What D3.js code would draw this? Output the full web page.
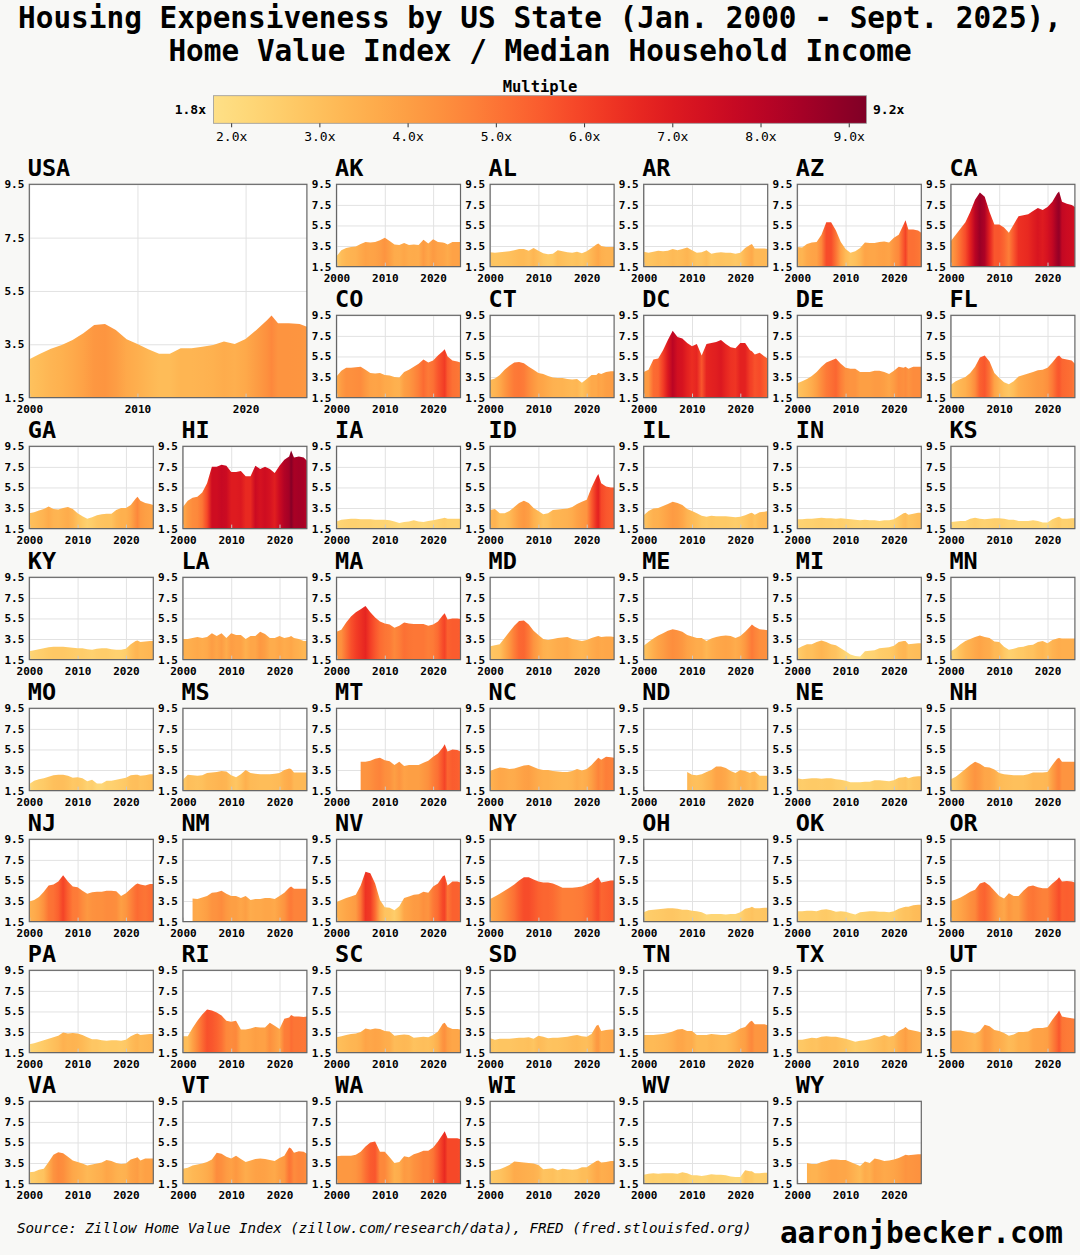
<!DOCTYPE html>
<html><head><meta charset="utf-8">
<script src="https://cdn.jsdelivr.net/npm/d3@7"></script>
<style>
body{margin:0;background:#f8f8f6;}
svg{display:block;font-family:"DejaVu Sans Mono",monospace;}
</style></head><body>
<div id="chart"></div>
<script>
// sample dates (fractional years); 2022.4 is the mid-2022 peak, 2025.67 = Sept. 2025
const years=[2000,2001,2002,2003,2004,2005,2006,2007,2008,2009,2010,2011,2012,2013,2014,2015,2016,2017,2018,2019,2020,2021,2022,2022.4,2023,2024,2025,2025.67];
const yTicks=[1.5,3.5,5.5,7.5,9.5];
const xTicks=[2000,2010,2020];
const barTicks=[2,3,4,5,6,7,8,9];
const vMin=1.8, vMax=9.2;

// home value index / median household income
const USA=[2.94,3.14,3.33,3.47,3.66,3.91,4.22,4.26,4.04,3.69,3.51,3.31,3.14,3.14,3.35,3.35,3.41,3.47,3.6,3.51,3.7,4.04,4.41,4.58,4.29,4.29,4.26,4.16];
const AK=[2.5,3.1,3.3,3.4,3.45,3.7,3.9,3.85,3.9,4.05,4.3,4.0,3.65,3.6,3.8,3.6,3.65,3.6,4.1,3.75,4.15,3.9,3.85,3.8,3.65,3.9,3.9,3.9];
const AL=[2.9,2.85,2.9,2.95,3.0,3.1,3.2,3.2,3.05,3.3,3.05,2.8,2.7,2.75,3.1,3.0,2.9,2.85,2.95,2.8,3.0,3.3,3.65,3.75,3.5,3.4,3.4,3.4];
const AR=[2.95,2.85,2.95,3.05,3.0,3.05,3.2,3.1,3.2,3.35,3.1,2.85,2.9,3.1,2.75,2.85,2.9,2.85,2.85,2.75,2.85,3.3,3.6,3.7,3.25,3.25,3.25,3.2];
const AZ=[3.4,3.35,3.7,3.85,3.9,4.6,5.8,5.8,5.0,3.9,3.2,2.85,3.0,3.3,3.85,3.8,3.8,3.9,3.95,3.85,4.3,4.6,5.6,6.0,5.1,5.1,5.0,4.8];
const CA=[4.0,4.6,5.2,5.8,6.8,8.0,8.7,8.3,6.8,5.6,5.6,5.3,4.8,5.6,6.4,6.5,6.6,6.9,7.2,7.0,7.3,7.8,8.6,8.8,7.8,7.6,7.5,7.3];
const CO=[3.55,4.1,4.4,4.4,4.45,4.5,4.2,3.9,3.85,3.9,3.7,3.65,3.5,3.45,4.0,4.2,4.5,4.8,5.2,4.9,5.1,5.6,6.0,6.2,5.5,5.1,5.0,4.9];
const CT=[3.2,3.35,3.7,4.2,4.6,4.9,4.95,4.85,4.5,4.2,3.9,3.8,3.6,3.45,3.4,3.4,3.3,3.25,3.3,2.95,3.3,3.7,3.7,3.9,3.8,4.0,4.05,4.05];
const DC=[4.0,4.2,5.2,5.3,6.1,7.1,8.0,7.4,7.25,6.8,6.5,6.7,5.6,6.7,6.8,6.9,7.1,6.7,6.4,6.3,6.8,6.8,6.1,6.0,5.7,5.85,5.5,5.3];
const DE=[2.9,3.1,3.3,3.6,4.0,4.5,4.9,5.1,5.3,4.8,4.4,4.3,4.3,4.0,4.0,4.0,4.1,4.1,4.0,3.8,4.1,4.5,4.4,4.5,4.3,4.5,4.5,4.5];
const FL=[2.75,3.1,3.3,3.5,3.9,4.5,5.4,5.6,5.0,3.9,3.4,3.0,2.8,3.1,3.55,3.7,3.85,4.0,4.15,4.2,4.4,4.9,5.5,5.6,5.3,5.2,5.1,4.8];
const GA=[3.0,3.1,3.25,3.4,3.65,3.4,3.35,3.5,3.6,3.4,3.0,2.7,2.45,2.6,2.8,2.9,2.95,2.95,3.3,3.5,3.5,3.8,4.4,4.6,4.2,4.0,3.9,3.8];
const HI=[3.6,4.2,4.5,4.6,5.0,5.9,7.5,7.5,7.7,7.6,7.0,7.0,7.1,6.6,6.6,7.6,7.3,7.5,7.3,6.9,7.6,8.2,8.5,9.1,8.4,8.5,8.4,8.1];
const IA=[2.2,2.35,2.4,2.45,2.45,2.4,2.4,2.4,2.35,2.35,2.35,2.3,2.2,2.05,2.15,2.2,2.3,2.2,2.15,2.25,2.3,2.4,2.5,2.55,2.45,2.45,2.45,2.45];
const ID=[3.3,3.4,3.0,3.0,3.2,3.6,4.0,4.2,4.0,3.5,3.2,2.9,3.0,3.3,3.35,3.4,3.45,3.6,3.9,4.1,4.3,5.5,6.5,6.8,5.9,5.6,5.5,5.5];
const IL=[2.8,3.2,3.45,3.5,3.7,3.9,4.1,4.0,3.8,3.4,3.2,3.0,2.75,2.65,2.75,2.7,2.7,2.7,2.65,2.6,2.65,2.8,3.0,3.05,2.85,3.1,3.15,3.2];
const IN=[2.4,2.4,2.45,2.45,2.5,2.55,2.5,2.5,2.45,2.5,2.45,2.4,2.35,2.3,2.35,2.3,2.3,2.25,2.3,2.3,2.4,2.7,3.0,3.05,2.85,2.95,3.05,3.05];
const KS=[2.15,2.2,2.25,2.25,2.45,2.55,2.45,2.4,2.45,2.5,2.5,2.45,2.35,2.35,2.25,2.25,2.25,2.3,2.25,2.1,2.1,2.4,2.6,2.65,2.45,2.45,2.5,2.5];
const KY=[2.3,2.4,2.5,2.6,2.7,2.75,2.75,2.75,2.7,2.65,2.6,2.6,2.5,2.45,2.55,2.6,2.6,2.5,2.45,2.45,2.55,3.0,3.3,3.35,3.2,3.25,3.3,3.3];
const LA=[3.5,3.5,3.6,3.7,3.6,3.7,4.05,3.8,4.05,3.6,4.05,3.9,3.9,3.5,3.8,3.8,4.2,4.0,3.6,3.6,3.8,3.6,3.7,3.8,3.6,3.5,3.3,3.3];
const MA=[4.2,4.4,5.1,5.7,6.1,6.4,6.7,6.1,5.6,5.2,5.0,4.9,4.6,4.8,5.1,5.0,4.95,4.95,4.95,4.8,4.9,5.2,5.8,6.0,5.4,5.5,5.5,5.45];
const MD=[2.8,2.9,3.0,3.6,4.2,4.8,5.25,5.3,4.9,4.3,3.9,3.5,3.4,3.5,3.6,3.65,3.7,3.5,3.4,3.3,3.4,3.6,3.75,3.8,3.7,3.75,3.75,3.7];
const ME=[2.85,3.2,3.55,3.85,4.05,4.3,4.45,4.35,4.2,3.9,3.75,3.6,3.6,3.3,3.55,3.7,3.8,3.85,3.8,3.6,3.8,4.2,4.7,4.9,4.7,4.45,4.4,4.35];
const MI=[2.55,2.8,3.0,3.0,3.2,3.35,3.2,3.0,2.9,2.6,2.3,2.0,1.85,1.8,2.3,2.35,2.4,2.6,2.65,2.7,2.85,3.2,3.3,3.3,3.0,3.05,3.1,3.1];
const MN=[2.3,2.6,3.0,3.3,3.5,3.7,3.85,3.7,3.6,3.25,3.2,2.75,2.45,2.55,2.7,2.75,2.9,2.95,3.2,3.3,3.1,3.4,3.55,3.6,3.55,3.55,3.55,3.55];
const MO=[2.15,2.45,2.6,2.7,2.85,3.0,3.05,3.05,2.95,2.75,2.8,2.7,2.4,2.55,2.2,2.2,2.45,2.45,2.55,2.65,2.75,3.0,3.05,3.05,2.95,3.0,3.1,3.1];
const MS=[2.55,3.05,3.0,2.95,3.0,3.2,3.25,3.3,3.4,3.35,3.0,2.8,3.1,3.5,3.2,3.15,3.1,3.1,3.1,3.15,3.2,3.5,3.65,3.6,3.25,3.25,3.25,3.25];
const MT=[null,null,null,null,null,4.3,4.3,4.4,4.6,4.7,4.45,4.35,4.0,4.3,3.9,4.0,4.0,4.0,4.2,4.4,4.8,5.1,5.7,6.0,5.3,5.5,5.45,5.3];
const NC=[3.4,3.6,3.75,3.7,3.6,3.65,3.8,3.95,4.0,3.8,3.6,3.5,3.5,3.4,3.35,3.3,3.3,3.4,3.6,3.45,3.6,4.0,4.5,4.7,4.5,4.8,4.75,4.7];
const ND=[null,null,null,null,null,null,null,null,null,3.3,3.05,3.0,3.1,3.3,3.5,3.85,3.85,3.7,3.4,3.2,3.5,3.4,3.2,3.3,3.35,2.95,2.95,2.95];
const NE=[2.7,2.6,2.65,2.7,2.7,2.65,2.7,2.7,2.6,2.55,2.45,2.3,2.3,2.3,2.35,2.35,2.5,2.5,2.45,2.4,2.5,2.75,2.8,2.85,2.7,2.85,2.9,2.9];
const NH=[2.6,2.85,3.2,3.6,4.0,4.3,4.1,3.8,3.75,3.55,3.2,3.1,3.05,3.0,3.0,3.0,3.1,3.25,3.25,3.25,3.3,4.0,4.6,4.7,4.3,4.3,4.3,4.3];
const NJ=[3.45,3.6,3.9,4.4,5.0,5.1,5.4,6.0,5.4,4.9,4.85,4.5,4.2,4.35,4.4,4.4,4.5,4.5,4.45,4.0,4.25,4.7,5.1,5.2,5.1,5.0,5.15,5.15];
const NM=[null,null,3.75,3.7,3.85,4.0,4.3,4.35,4.5,4.2,4.0,4.0,3.8,4.0,3.6,3.7,3.7,3.8,3.8,3.7,4.0,4.3,4.8,4.9,4.7,4.7,4.7,4.7];
const NV=[3.4,3.6,3.8,3.95,4.1,5.0,6.35,6.2,5.2,3.6,2.9,2.85,2.6,3.0,3.8,3.95,4.1,4.15,4.4,4.3,4.9,5.2,5.9,6.0,5.0,5.4,5.4,5.3];
const NY=[3.7,3.95,4.2,4.5,4.8,5.1,5.5,5.8,5.8,5.6,5.4,5.3,5.3,5.2,5.0,4.8,4.8,4.8,4.85,4.9,5.1,5.3,5.7,5.8,5.3,5.4,5.5,5.5];
const OH=[2.4,2.6,2.65,2.7,2.75,2.8,2.8,2.75,2.65,2.65,2.55,2.5,2.4,2.2,2.25,2.25,2.25,2.2,2.25,2.25,2.4,2.75,2.85,2.95,2.8,2.8,2.85,2.85];
const OK=[2.5,2.5,2.55,2.55,2.5,2.65,2.7,2.6,2.45,2.5,2.45,2.3,2.2,2.4,2.45,2.5,2.5,2.45,2.45,2.4,2.5,2.75,2.9,2.95,2.95,3.1,3.15,3.15];
const OR=[3.5,3.65,3.85,4.1,4.4,4.6,5.2,5.35,5.0,4.5,4.0,3.75,4.25,4.0,4.0,4.5,4.9,5.0,4.85,4.75,4.75,5.2,5.6,5.8,5.4,5.45,5.4,5.3];
const PA=[2.3,2.4,2.55,2.7,2.85,3.0,3.15,3.45,3.35,3.4,3.35,3.2,3.0,2.8,2.8,2.7,2.65,2.7,2.7,2.65,2.75,3.1,3.3,3.35,3.2,3.25,3.3,3.3];
const RI=[3.1,3.1,3.9,4.6,5.2,5.7,5.6,5.4,5.1,4.6,4.5,4.6,3.75,3.75,3.85,4.0,3.95,3.95,4.4,4.1,3.8,4.8,4.9,5.15,5.0,5.0,4.95,5.0];
const SC=[3.0,3.1,3.2,3.3,3.35,3.5,3.85,3.75,3.85,3.8,3.6,3.55,3.15,3.2,3.25,3.2,2.95,3.0,3.05,3.0,3.2,3.55,4.3,4.4,4.0,3.8,3.8,3.75];
const SD=[2.9,2.75,2.85,2.85,2.85,2.9,2.95,2.95,3.0,2.85,3.15,3.05,2.9,2.95,2.95,3.0,3.05,3.15,3.2,3.1,3.05,3.3,4.1,4.2,3.6,3.7,3.75,3.75];
const TN=[3.2,3.2,3.2,3.25,3.3,3.4,3.55,3.75,3.8,3.6,3.6,3.2,3.2,3.2,3.3,3.25,3.2,3.2,3.35,3.55,3.85,4.0,4.5,4.6,4.25,4.25,4.25,4.15];
const TX=[2.75,2.75,2.85,2.95,2.9,3.05,3.1,3.05,3.05,2.95,2.85,2.7,2.55,2.65,2.7,2.8,2.95,3.05,3.2,3.05,3.15,3.6,3.85,4.0,3.75,3.65,3.55,3.45];
const UT=[3.6,3.65,3.65,3.55,3.45,3.35,3.6,4.2,4.05,3.7,3.6,3.4,3.15,3.25,3.5,3.5,3.55,3.85,3.9,3.9,4.0,4.7,5.3,5.6,5.0,4.9,4.85,4.8];
const VA=[2.6,2.65,2.85,2.95,3.6,4.3,4.55,4.45,4.1,3.75,3.6,3.45,3.25,3.35,3.45,3.55,3.8,3.7,3.5,3.4,3.45,3.85,4.0,4.05,3.75,3.95,3.95,3.95];
const VT=[2.95,3.05,3.25,3.35,3.45,3.6,3.85,4.5,4.4,4.1,3.95,4.2,3.9,3.6,3.75,3.9,3.95,3.9,3.8,3.7,4.0,4.2,5.0,4.9,4.5,4.65,4.6,4.4];
const WA=[4.15,4.2,4.2,4.2,4.3,4.6,5.1,5.5,5.6,4.6,4.6,4.05,3.5,3.6,4.15,4.05,4.35,4.5,4.7,4.7,5.0,5.6,6.3,6.6,5.9,5.9,5.9,5.8];
const WI=[2.7,2.8,2.9,3.1,3.3,3.65,3.6,3.55,3.5,3.45,3.3,2.9,2.95,3.0,2.8,2.95,2.9,2.85,2.9,3.1,3.1,3.4,3.7,3.75,3.55,3.6,3.7,3.7];
const WV=[2.35,2.45,2.5,2.45,2.5,2.5,2.5,2.45,2.6,2.5,2.3,2.3,2.25,2.3,2.4,2.35,2.35,2.3,2.2,2.15,2.15,2.8,2.7,2.7,2.5,2.5,2.55,2.55];
const WY=[null,null,3.5,3.4,3.4,3.6,3.7,3.85,3.85,3.8,3.8,3.6,3.4,3.2,3.65,3.5,3.95,3.85,3.7,3.75,3.85,4.0,4.2,4.3,4.25,4.3,4.35,4.35];

const series={USA,AK,AL,AR,AZ,CA,CO,CT,DC,DE,FL,GA,HI,IA,ID,IL,IN,KS,KY,LA,MA,MD,ME,MI,MN,MO,MS,MT,NC,ND,NE,NH,NJ,NM,NV,NY,OH,OK,OR,PA,RI,SC,SD,TN,TX,UT,VA,VT,WA,WI,WV,WY};
const stateOrder=Object.keys(series).slice(1);

var W=1080,H=1255;
var colX0=29.3, colStep=153.6, pw=124, rowY0=184.3, rowStep=131, ph=82.3;

var svg=d3.select("#chart").append("svg").attr("width",W).attr("height",H);
svg.append("rect").attr("width",W).attr("height",H).attr("fill","#f8f8f6");
var defs=svg.append("defs");
var colour=function(v){return d3.interpolateYlOrRd(0.2+0.8*Math.max(0,Math.min(1,(v-vMin)/(vMax-vMin))));};

// title
svg.append("text").attr("x",540).attr("y",27.5).attr("text-anchor","middle").attr("font-size",29.4).attr("font-weight","bold")
    .text("Housing Expensiveness by US State (Jan. 2000 - Sept. 2025),");
svg.append("text").attr("x",540).attr("y",60.5).attr("text-anchor","middle").attr("font-size",29.4).attr("font-weight","bold")
    .text("Home Value Index / Median Household Income");

// colour bar
var cbx=d3.scaleLinear().domain([vMin,vMax]).range([213.5,866.4]);
var cb=defs.append("linearGradient").attr("id","cbar");
d3.range(0,1.0001,0.05).forEach(function(t){cb.append("stop").attr("offset",t).attr("stop-color",colour(vMin+t*(vMax-vMin)));});
svg.append("text").attr("x",540).attr("y",91.5).attr("text-anchor","middle").attr("font-size",15.5).attr("font-weight","bold").text("Multiple");
svg.append("rect").attr("x",213.5).attr("y",95.7).attr("width",866.4-213.5).attr("height",27.6).attr("fill","url(#cbar)")
    .attr("stroke","#999").attr("stroke-width",0.8);
svg.append("g").attr("transform","translate(0,123.3)")
    .call(d3.axisBottom(cbx).tickValues(barTicks).tickSize(4).tickPadding(4).tickFormat(function(d){return d.toFixed(1)+"x";}))
    .call(function(a){a.select(".domain").remove();a.attr("font-family","DejaVu Sans Mono").attr("font-size",13);a.selectAll("line").attr("stroke","#333");});
svg.append("text").attr("x",206).attr("y",109.5).attr("dy","0.35em").attr("text-anchor","end").attr("font-size",13).attr("font-weight","bold").text(vMin.toFixed(1)+"x");
svg.append("text").attr("x",873).attr("y",109.5).attr("dy","0.35em").attr("font-size",13).attr("font-weight","bold").text(vMax.toFixed(1)+"x");

function panel(name,px,py,w,h){
    var pts=years.map(function(yr,i){return [yr,series[name][i]];});
    var x=d3.scaleLinear().domain([2000,2025.67]).range([0,w]);
    var y=d3.scaleLinear().domain([1.5,9.5]).range([h,0]);
    var g=svg.append("g").attr("transform","translate("+px+","+py+")");
    g.append("rect").attr("width",w).attr("height",h).attr("fill","#fff");

    g.append("g").call(d3.axisLeft(y).tickValues(yTicks).tickSize(-w).tickFormat(""))
        .call(function(a){a.select(".domain").remove();a.selectAll("line").attr("stroke","#e2e2e2");});
    g.append("g").attr("transform","translate(0,"+h+")").call(d3.axisBottom(x).tickValues(xTicks).tickSize(-h).tickFormat(""))
        .call(function(a){a.select(".domain").remove();a.selectAll("line").attr("stroke","#e2e2e2");});

    var lg=defs.append("linearGradient").attr("id","grad-"+name).attr("gradientUnits","userSpaceOnUse")
        .attr("x1",0).attr("x2",w).attr("y1",0).attr("y2",0);
    pts.filter(function(d){return d[1]!=null;}).forEach(function(d){
        lg.append("stop").attr("offset",x(d[0])/w).attr("stop-color",colour(d[1]));
    });
    g.append("path").datum(pts).attr("fill","url(#grad-"+name+")")
        .attr("d",d3.area().defined(function(d){return d[1]!=null;}).x(function(d){return x(d[0]);}).y0(h).y1(function(d){return y(d[1]);}));

    // short inward ticks on the bottom edge
    g.append("g").attr("transform","translate(0,"+h+")").call(d3.axisTop(x).tickValues(xTicks).tickSize(4).tickFormat(""))
        .call(function(a){a.select(".domain").remove();a.selectAll("line").attr("stroke","#c8c8c8");});
    g.append("rect").attr("width",w).attr("height",h).attr("fill","none").attr("stroke","#666").attr("stroke-width",1.2);

    g.append("g").call(d3.axisLeft(y).tickValues(yTicks).tickSize(0).tickPadding(5).tickFormat(d3.format(".1f")))
        .call(function(a){a.select(".domain").remove();a.attr("font-family","DejaVu Sans Mono").attr("font-size",11).attr("font-weight","bold");});
    g.append("g").attr("transform","translate(0,"+h+")").call(d3.axisBottom(x).tickValues(xTicks).tickSize(0).tickPadding(7.5).tickFormat(d3.format("d")))
        .call(function(a){a.select(".domain").remove();a.attr("font-family","DejaVu Sans Mono").attr("font-size",11).attr("font-weight","bold");});

    g.append("text").attr("x",-1.5).attr("y",-8).attr("font-size",23.5).attr("font-weight","bold").text(name);
}

panel("USA",colX0,rowY0,colStep+pw,rowStep+ph);
stateOrder.forEach(function(s,i){
    var c,r;
    if(i<10){c=2+i%5;r=Math.floor(i/5);}
    else{var k=i-10;c=k%7;r=2+Math.floor(k/7);}
    panel(s,colX0+c*colStep,rowY0+r*rowStep,pw,ph);
});

svg.append("text").attr("x",17).attr("y",1233).attr("font-size",14.2).attr("font-style","italic")
    .text("Source: Zillow Home Value Index (zillow.com/research/data), FRED (fred.stlouisfed.org)");
svg.append("text").attr("x",1063).attr("y",1243).attr("text-anchor","end").attr("font-size",29.4).attr("font-weight","bold")
    .text("aaronjbecker.com");
</script>
</body></html>
